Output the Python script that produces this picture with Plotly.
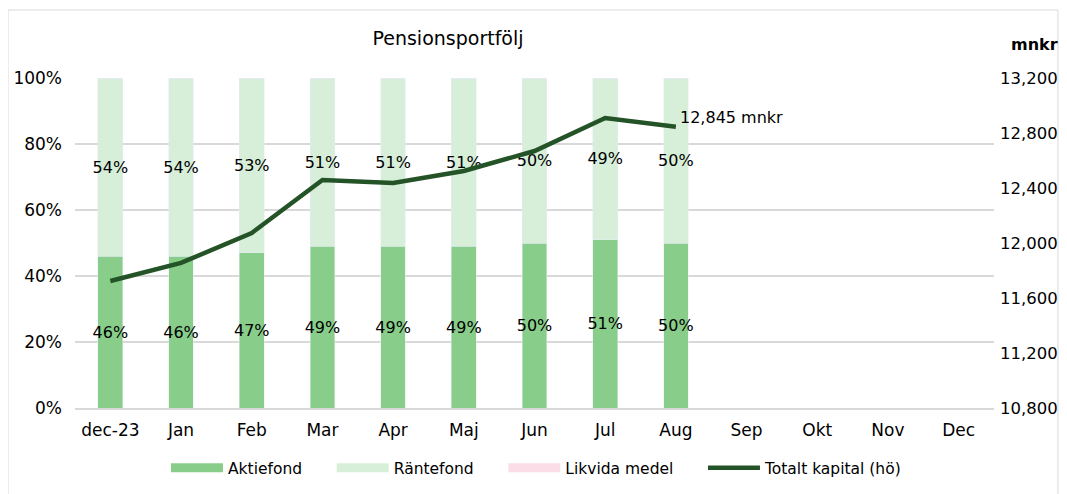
import plotly.graph_objects as go

months = ["dec-23", "Jan", "Feb", "Mar", "Apr", "Maj", "Jun", "Jul", "Aug", "Sep", "Okt", "Nov", "Dec"]
aktiefond = [46, 46, 47, 49, 49, 49, 50, 51, 50, None, None, None, None]
rantefond = [54, 54, 53, 51, 51, 51, 50, 49, 50, None, None, None, None]
likvida = [0, 0, 0, 0, 0, 0, 0, 0, 0, None, None, None, None]
totalt = [11724, 11855, 12073, 12458, 12436, 12524, 12669, 12909, 12845, None, None, None, None]
left_ticks = [0, 20, 40, 60, 80, 100]
left_tick_text = ["0%", "20%", "40%", "60%", "80%", "100%"]
right_ticks = [10800, 11200, 11600, 12000, 12400, 12800, 13200]

FONT = "DejaVu Sans"
C_AKT = "#88CE8A"
C_RAN = "#D7EFD9"
C_LIK = "#FADDE6"
C_LINE = "#235326"
PAD = "\u00a0" * 5

def lbl(vals):
    return [f"{v}%" if v else "" for v in vals]

fig = go.Figure()
fig.add_bar(x=months, y=aktiefond, name="Aktiefond", marker_color=C_AKT, showlegend=False,
            text=lbl(aktiefond), textposition="inside", insidetextanchor="middle",
            textangle=0, constraintext="none", textfont=dict(size=16, color="black", family=FONT))
fig.add_bar(x=months, y=rantefond, name="Räntefond", marker_color=C_RAN, showlegend=False,
            text=lbl(rantefond), textposition="inside", insidetextanchor="middle",
            textangle=0, constraintext="none", textfont=dict(size=16, color="black", family=FONT))
fig.add_bar(x=months, y=likvida, name="Likvida medel", marker_color=C_LIK, showlegend=False)

# legend swatches (wide rectangles like the reference)
for nm, col in [("Aktiefond", C_AKT), ("Räntefond", C_RAN), ("Likvida medel", C_LIK)]:
    fig.add_scatter(x=[None], y=[None], mode="lines", name=nm + PAD, line=dict(color=col, width=9),
                    hoverinfo="skip")

fig.add_scatter(x=months, y=totalt, name="Totalt kapital (hö)", yaxis="y2", mode="lines",
                line=dict(color=C_LINE, width=4.5))

last_i = max(i for i, v in enumerate(totalt) if v is not None)
fig.add_annotation(x=months[last_i], y=totalt[last_i], xref="x", yref="y2",
                   text=f"{totalt[last_i]:,} mnkr", showarrow=False, xanchor="left",
                   yanchor="middle", xshift=2, yshift=9,
                   font=dict(size=16, color="black", family=FONT))

fig.add_annotation(x=1.0446, y=1.103, xref="paper", yref="paper", text="<b>mnkr</b>",
                   showarrow=False, xanchor="center", yanchor="middle",
                   font=dict(size=16, color="black", family=FONT))

fig.add_shape(type="rect", xref="paper", yref="paper", x0=-0.0729, x1=1.0696, y0=-0.4, y1=1.206,
              line=dict(color="#D9D9D9", width=1), fillcolor="rgba(0,0,0,0)", layer="below")

fig.update_layout(
    width=1051, height=494,
    margin=dict(l=67, r=65, t=70, b=94),
    paper_bgcolor="white", plot_bgcolor="white",
    barmode="stack", bargap=0.65,
    font=dict(family=FONT, size=16, color="black"),
    title=dict(text="Pensionsportfölj", x=440 / 1051, y=1 - 30 / 494, xanchor="center", yanchor="middle",
               font=dict(size=19, family=FONT, color="black")),
    xaxis=dict(showgrid=False, showline=True, linecolor="#D9D9D9", linewidth=1.5, automargin=False,
               ticks="", tickfont=dict(size=17), ticklabelstandoff=6, fixedrange=True),
    yaxis=dict(range=[0, 100], tickvals=left_ticks, ticktext=left_tick_text, showgrid=True,
               gridcolor="#D9D9D9", gridwidth=1.5, zeroline=False, ticks="", automargin=False,
               tickfont=dict(size=17), ticklabelstandoff=12),
    yaxis2=dict(range=[10800, 13200], tickvals=right_ticks, tickformat=",", overlaying="y",
                side="right", showgrid=False, zeroline=False, ticks="", automargin=False,
                tickfont=dict(size=16.5), ticklabelstandoff=5),
    legend=dict(orientation="h", x=0.099, y=-0.182, xanchor="left", yanchor="middle",
                font=dict(size=15.5), itemwidth=52, traceorder="normal"),
    showlegend=True,
)

fig.write_html("out.html")
